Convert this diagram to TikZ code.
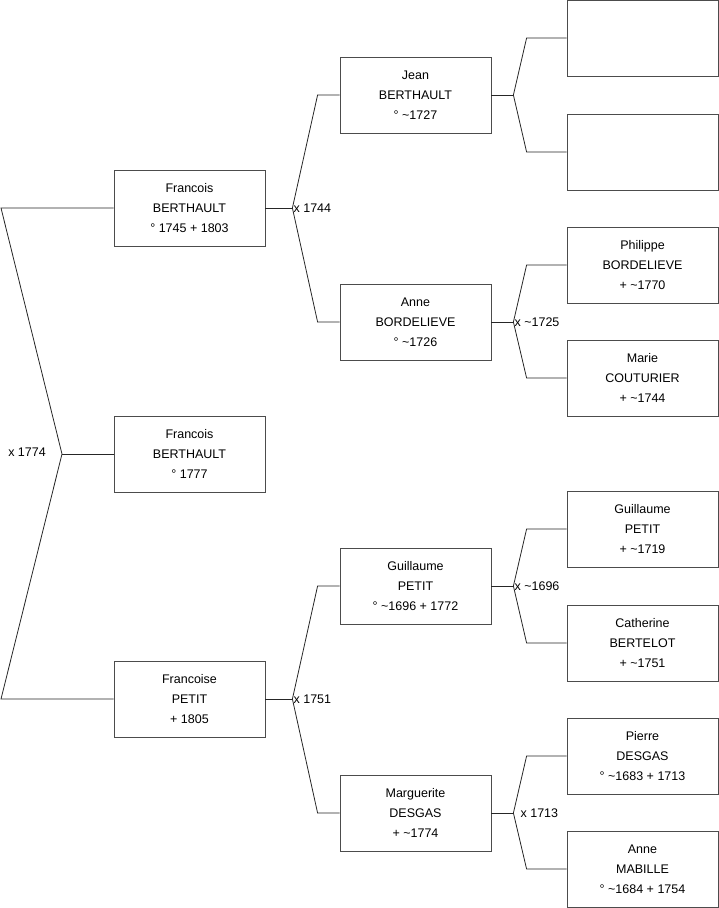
\documentclass[tikz,border=0pt]{standalone}
\usepackage{fontspec}
\setmainfont{Liberation Sans}

\begin{document}
\begin{tikzpicture}[
    x=1pt, y=-1pt,
    person/.style={draw=black!70, line width=0.8pt, minimum width=151pt, minimum height=76pt,
                   inner sep=0pt, align=center, font=\fontsize{12.5}{20}\selectfont},
    link/.style={draw=black!85, line width=0.8pt},
    wedding/.style={anchor=west, inner sep=1pt, font=\fontsize{12.5}{15}\selectfont}
]
\useasboundingbox (0,0) rectangle (719,908);
% children
\node[person] (fb) at (189.5,208) {Francois\\BERTHAULT\\° 1745 + 1803};
\node[person] (fb2) at (189.5,454) {Francois\\BERTHAULT\\° 1777};
\node[person] (fp) at (189.5,699) {Francoise\\PETIT\\+ 1805};
% parents
\node[person] (jb) at (415.5,95) {Jean\\BERTHAULT\\° \textasciitilde1727};
\node[person] (ab) at (415.5,322) {Anne\\BORDELIEVE\\° \textasciitilde1726};
\node[person] (gp) at (415.5,586) {Guillaume\\PETIT\\° \textasciitilde1696 + 1772};
\node[person] (md) at (415.5,813) {Marguerite\\DESGAS\\+ \textasciitilde1774};
% grandparents
\node[person] (u1) at (642.5,38) {};
\node[person] (u2) at (642.5,152) {};
\node[person] (pb) at (642.5,265) {Philippe\\BORDELIEVE\\+ \textasciitilde1770};
\node[person] (mc) at (642.5,378) {Marie\\COUTURIER\\+ \textasciitilde1744};
\node[person] (gp2) at (642.5,529) {Guillaume\\PETIT\\+ \textasciitilde1719};
\node[person] (cb) at (642.5,643) {Catherine\\BERTELOT\\+ \textasciitilde1751};
\node[person] (pd) at (642.5,756) {Pierre\\DESGAS\\° \textasciitilde1683 + 1713};
\node[person] (am) at (642.5,869) {Anne\\MABILLE\\° \textasciitilde1684 + 1754};

% couple of the children
\coordinate (m0) at (62,454);
\coordinate (l0a) at (1,208);
\coordinate (l0b) at (1,699);
\draw[link] (fb.west) -- (l0a) -- (m0) -- (l0b) -- (fp.west);
\draw[link] (m0) -- (fb2.west);
\node[wedding, anchor=east] (w0) at (47,452) {x 1774};

% couples of the parents
\coordinate (m1) at ([xshift=27pt]fb.east);
\coordinate (m2) at ([xshift=27pt]fp.east);
\draw[link] (fb.east) -- (m1);
\draw[link] (jb.west) -- ++(-22,0) -- (m1) -- ([xshift=-22pt]ab.west) -- (ab.west);
\draw[link] (fp.east) -- (m2);
\draw[link] (gp.west) -- ++(-22,0) -- (m2) -- ([xshift=-22pt]md.west) -- (md.west);
\node[wedding] (w1) at (m1) {x 1744};
\node[wedding] (w2) at (m2) {x 1751};

% couples of the grandparents
\coordinate (m3) at ([xshift=22pt]jb.east);
\coordinate (m4) at ([xshift=22pt]ab.east);
\coordinate (m5) at ([xshift=22pt]gp.east);
\coordinate (m6) at ([xshift=22pt]md.east);
\draw[link] (jb.east) -- (m3);
\draw[link] (u1.west) -- ++(-40,0) -- (m3) -- ([xshift=-40pt]u2.west) -- (u2.west);
\draw[link] (ab.east) -- (m4);
\draw[link] (pb.west) -- ++(-40,0) -- (m4) -- ([xshift=-40pt]mc.west) -- (mc.west);
\draw[link] (gp.east) -- (m5);
\draw[link] (gp2.west) -- ++(-40,0) -- (m5) -- ([xshift=-40pt]cb.west) -- (cb.west);
\draw[link] (md.east) -- (m6);
\draw[link] (pd.west) -- ++(-40,0) -- (m6) -- ([xshift=-40pt]am.west) -- (am.west);
\node[wedding] (w4) at (m4) {x \textasciitilde1725};
\node[wedding] (w5) at (m5) {x \textasciitilde1696};
\node[wedding, xshift=6pt] (w6) at (m6) {x 1713};
\end{tikzpicture}
\end{document}
